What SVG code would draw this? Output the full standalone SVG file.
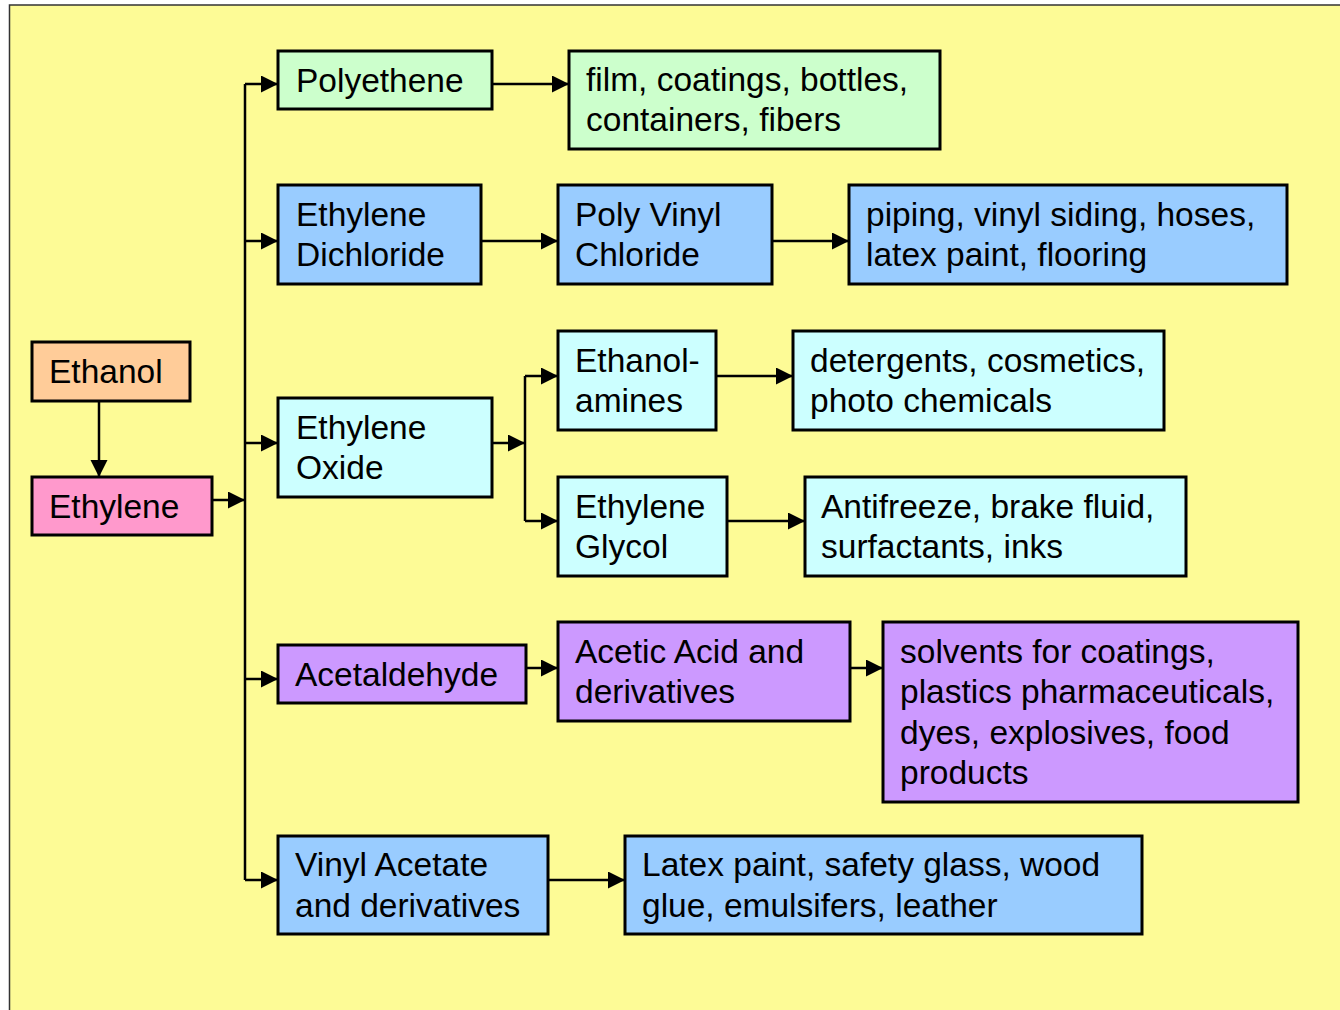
<svg xmlns="http://www.w3.org/2000/svg" width="1340" height="1010" viewBox="0 0 1340 1010">
  <style>
    .box { stroke: #000; stroke-width: 3; }
    .green { fill: #CCFFCC; }
    .blue { fill: #99CCFF; }
    .cyan { fill: #CCFFFF; }
    .purple { fill: #CC99FF; }
    .orange { fill: #FFCC99; }
    .pink { fill: #FF99CC; }
    text { font-family: "Liberation Sans", Arial, sans-serif; font-size: 33.5px; fill: #000; }
    .wire { fill: none; stroke: #000; stroke-width: 2.5; }
  </style>
  <defs>
    <marker id="arrow" markerUnits="userSpaceOnUse" markerWidth="18" markerHeight="18" refX="17" refY="8.5" orient="auto">
      <path d="M0,0 L17,8.5 L0,17 Z" fill="#000"/>
    </marker>
  </defs>

  <!-- slide background -->
  <rect x="9.5" y="5" width="1340" height="1010" fill="#FDFB96" stroke="#333" stroke-width="1.5"/>

  <!-- connectors -->
  <g id="connectors" class="wire">
    <line x1="99" y1="401" x2="99" y2="477" marker-end="url(#arrow)"/>
    <line x1="212" y1="500" x2="245" y2="500" marker-end="url(#arrow)"/>
    <line x1="245" y1="84" x2="245" y2="880"/>
    <line x1="245" y1="84" x2="278" y2="84" marker-end="url(#arrow)"/>
    <line x1="245" y1="241" x2="278" y2="241" marker-end="url(#arrow)"/>
    <line x1="245" y1="443" x2="278" y2="443" marker-end="url(#arrow)"/>
    <line x1="245" y1="679" x2="278" y2="679" marker-end="url(#arrow)"/>
    <line x1="245" y1="880" x2="278" y2="880" marker-end="url(#arrow)"/>
    <line x1="492" y1="84" x2="569" y2="84" marker-end="url(#arrow)"/>
    <line x1="481" y1="241" x2="558" y2="241" marker-end="url(#arrow)"/>
    <line x1="772" y1="241" x2="849" y2="241" marker-end="url(#arrow)"/>
    <line x1="492" y1="443" x2="525" y2="443" marker-end="url(#arrow)"/>
    <line x1="525" y1="376" x2="525" y2="521"/>
    <line x1="525" y1="376" x2="558" y2="376" marker-end="url(#arrow)"/>
    <line x1="525" y1="521" x2="558" y2="521" marker-end="url(#arrow)"/>
    <line x1="716" y1="376" x2="793" y2="376" marker-end="url(#arrow)"/>
    <line x1="727" y1="521" x2="805" y2="521" marker-end="url(#arrow)"/>
    <line x1="526" y1="668" x2="558" y2="668" marker-end="url(#arrow)"/>
    <line x1="850" y1="668" x2="883" y2="668" marker-end="url(#arrow)"/>
    <line x1="548" y1="880" x2="625" y2="880" marker-end="url(#arrow)"/>
  </g>

  <g id="ethanol">
    <rect class="box orange" x="32" y="342" width="158" height="59"/>
    <text x="49" y="383">Ethanol</text>
  </g>
  <g id="ethylene">
    <rect class="box pink" x="32" y="477" width="180" height="58"/>
    <text x="49" y="518">Ethylene</text>
  </g>

  <g id="polyethene">
    <rect class="box green" x="278" y="51" width="214" height="58"/>
    <text x="296" y="92">Polyethene</text>
  </g>
  <g id="polyethene-uses">
    <rect class="box green" x="569" y="51" width="371" height="98"/>
    <text x="586" y="91">film, coatings, bottles,</text>
    <text x="586" y="131">containers, fibers</text>
  </g>

  <g id="ethylene-dichloride">
    <rect class="box blue" x="278" y="185" width="203" height="99"/>
    <text x="296" y="226">Ethylene</text>
    <text x="296" y="266">Dichloride</text>
  </g>
  <g id="pvc">
    <rect class="box blue" x="558" y="185" width="214" height="99"/>
    <text x="575" y="226">Poly Vinyl</text>
    <text x="575" y="266">Chloride</text>
  </g>
  <g id="pvc-uses">
    <rect class="box blue" x="849" y="185" width="438" height="99"/>
    <text x="866" y="226">piping, vinyl siding, hoses,</text>
    <text x="866" y="266">latex paint, flooring</text>
  </g>

  <g id="ethylene-oxide">
    <rect class="box cyan" x="278" y="398" width="214" height="99"/>
    <text x="296" y="439">Ethylene</text>
    <text x="296" y="479">Oxide</text>
  </g>
  <g id="ethanolamines">
    <rect class="box cyan" x="558" y="331" width="158" height="99"/>
    <text x="575" y="372">Ethanol-</text>
    <text x="575" y="412">amines</text>
  </g>
  <g id="ethanolamines-uses">
    <rect class="box cyan" x="793" y="331" width="371" height="99"/>
    <text x="810" y="372">detergents, cosmetics,</text>
    <text x="810" y="412">photo chemicals</text>
  </g>
  <g id="ethylene-glycol">
    <rect class="box cyan" x="558" y="477" width="169" height="99"/>
    <text x="575" y="518">Ethylene</text>
    <text x="575" y="558">Glycol</text>
  </g>
  <g id="glycol-uses">
    <rect class="box cyan" x="805" y="477" width="381" height="99"/>
    <text x="821" y="518">Antifreeze, brake fluid,</text>
    <text x="821" y="558">surfactants, inks</text>
  </g>

  <g id="acetaldehyde">
    <rect class="box purple" x="278" y="645" width="248" height="58"/>
    <text x="295" y="686">Acetaldehyde</text>
  </g>
  <g id="acetic-acid">
    <rect class="box purple" x="558" y="622" width="292" height="99"/>
    <text x="575" y="663">Acetic Acid and</text>
    <text x="575" y="703">derivatives</text>
  </g>
  <g id="acetic-uses">
    <rect class="box purple" x="883" y="622" width="415" height="180"/>
    <text x="900" y="663">solvents for coatings,</text>
    <text x="900" y="703">plastics pharmaceuticals,</text>
    <text x="900" y="744">dyes, explosives, food</text>
    <text x="900" y="784">products</text>
  </g>

  <g id="vinyl-acetate">
    <rect class="box blue" x="278" y="836" width="270" height="98"/>
    <text x="295" y="876">Vinyl Acetate</text>
    <text x="295" y="917">and derivatives</text>
  </g>
  <g id="vinyl-acetate-uses">
    <rect class="box blue" x="625" y="836" width="517" height="98"/>
    <text x="642" y="876">Latex paint, safety glass, wood</text>
    <text x="642" y="917">glue, emulsifers, leather</text>
  </g>
</svg>
